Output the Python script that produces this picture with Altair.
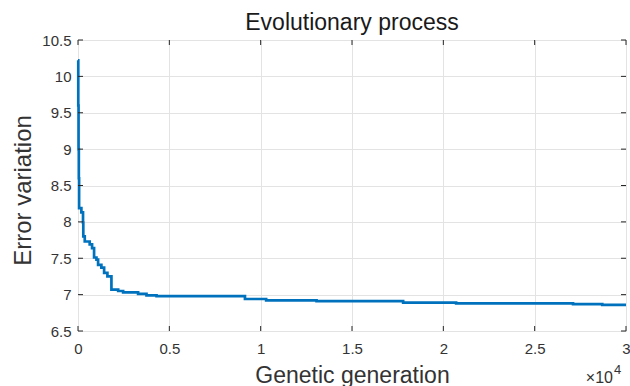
import altair as alt
import pandas as pd

# Best error per generation (step changes only)
generations = [0, 15, 30, 45, 60, 185, 275, 290, 370, 640, 770, 880, 1010, 1100,
               1280, 1430, 1610, 1830, 2200, 2470, 3290, 3750, 4300, 9140, 10300,
               13060, 17800, 20700, 27100, 28700, 30000]
errors = [10.22, 9.6, 9.0, 8.6, 8.19, 8.13, 7.99, 7.80, 7.73, 7.69, 7.64, 7.51,
          7.48, 7.41, 7.37, 7.30, 7.25, 7.07, 7.05, 7.03, 7.01, 6.99, 6.98, 6.94,
          6.92, 6.91, 6.89, 6.88, 6.87, 6.86, 6.86]

x_ticks = [0, 5000, 10000, 15000, 20000, 25000, 30000]
y_ticks = [6.5, 7.0, 7.5, 8.0, 8.5, 9.0, 9.5, 10.0, 10.5]

W, H = 548, 291
FONT = "Liberation Sans"
AXIS_COLOR = "#262626"
LABEL_COLOR = "#333333"
TICK_LEN = 5

df = pd.DataFrame({"gen": generations, "err": errors})

x_scale = alt.Scale(domain=[0, 30000], nice=False, zero=False)
y_scale = alt.Scale(domain=[6.5, 10.5], nice=False, zero=False)

x_axis = alt.Axis(
    values=x_ticks, labelExpr="datum.value / 10000",
    grid=True, gridColor="#e3e3e3", ticks=False, domain=False,
    labelFont=FONT, labelFontSize=15, labelColor=LABEL_COLOR,
    labelPadding=10, labelFlush=False, labelOverlap=False,
    title="Genetic generation", titleFont=FONT, titleFontSize=23,
    titleFontWeight="normal", titleColor=LABEL_COLOR,
    titleBaseline="alphabetic", titleY=51, titleX=W / 2,
)
y_axis = alt.Axis(
    values=y_ticks, labelExpr="format(datum.value, '~g')",
    grid=True, gridColor="#e3e3e3", ticks=False,
    domain=False, labelFont=FONT, labelFontSize=15,
    labelColor=LABEL_COLOR, labelPadding=7, labelFlush=False,
    labelOverlap=False, labelBound=False,
    title="Error variation", titleFont=FONT, titleFontSize=24,
    titleFontWeight="normal", titleColor=LABEL_COLOR,
    titleBaseline="alphabetic", titleX=-48, titleY=150,
)

tx = alt.X("gen:Q", scale=x_scale, axis=x_axis)
ty = alt.Y("err:Q", scale=y_scale, axis=y_axis)

line = alt.Chart(df).mark_line(
    interpolate="step-after", color="#0072BD", strokeWidth=2.7
).encode(x=tx, y=ty)

# Inward tick marks on all four sides of the box
xt = pd.DataFrame({"gen": x_ticks})
yt = pd.DataFrame({"err": y_ticks})
tick_style = dict(color=AXIS_COLOR, strokeWidth=1)
bottom_ticks = alt.Chart(xt).mark_rule(**tick_style).encode(
    x=tx, y=alt.value(H), y2=alt.value(H - TICK_LEN))
top_ticks = alt.Chart(xt).mark_rule(**tick_style).encode(
    x=tx, y=alt.value(0), y2=alt.value(TICK_LEN))
left_ticks = alt.Chart(yt).mark_rule(**tick_style).encode(
    y=ty, x=alt.value(0), x2=alt.value(TICK_LEN))
right_ticks = alt.Chart(yt).mark_rule(**tick_style).encode(
    y=ty, x=alt.value(W), x2=alt.value(W - TICK_LEN))

# Exponent note for the x axis
mult = pd.DataFrame({"t": ["\u00d710"]})
exp_df = pd.DataFrame({"t": ["4"]})
mult_text = alt.Chart(mult).mark_text(
    font=FONT, fontSize=16, color=LABEL_COLOR, align="right",
    baseline="alphabetic").encode(
    text="t:N", x=alt.value(535), y=alt.value(343))
exp_text = alt.Chart(exp_df).mark_text(
    font=FONT, fontSize=13, color=LABEL_COLOR, align="left",
    baseline="alphabetic").encode(
    text="t:N", x=alt.value(536), y=alt.value(334))

chart = alt.layer(
    line, bottom_ticks, top_ticks, left_ticks, right_ticks, mult_text, exp_text
).properties(
    width=W, height=H,
    title=alt.TitleParams(
        "Evolutionary process", font=FONT, fontSize=23, fontWeight="normal",
        color="#1a1a1a", anchor="middle", baseline="alphabetic", offset=-20,
        frame="group"),
    autosize=alt.AutoSizeParams(type="none"),
    padding={"left": 78, "top": 40, "right": 4, "bottom": 55},
).configure_view(
    stroke=AXIS_COLOR, strokeWidth=1
).configure_axis(
    labelOverlap=False
).configure(background="white")

chart.save("out.html", embed_options={"renderer": "svg", "actions": False})
